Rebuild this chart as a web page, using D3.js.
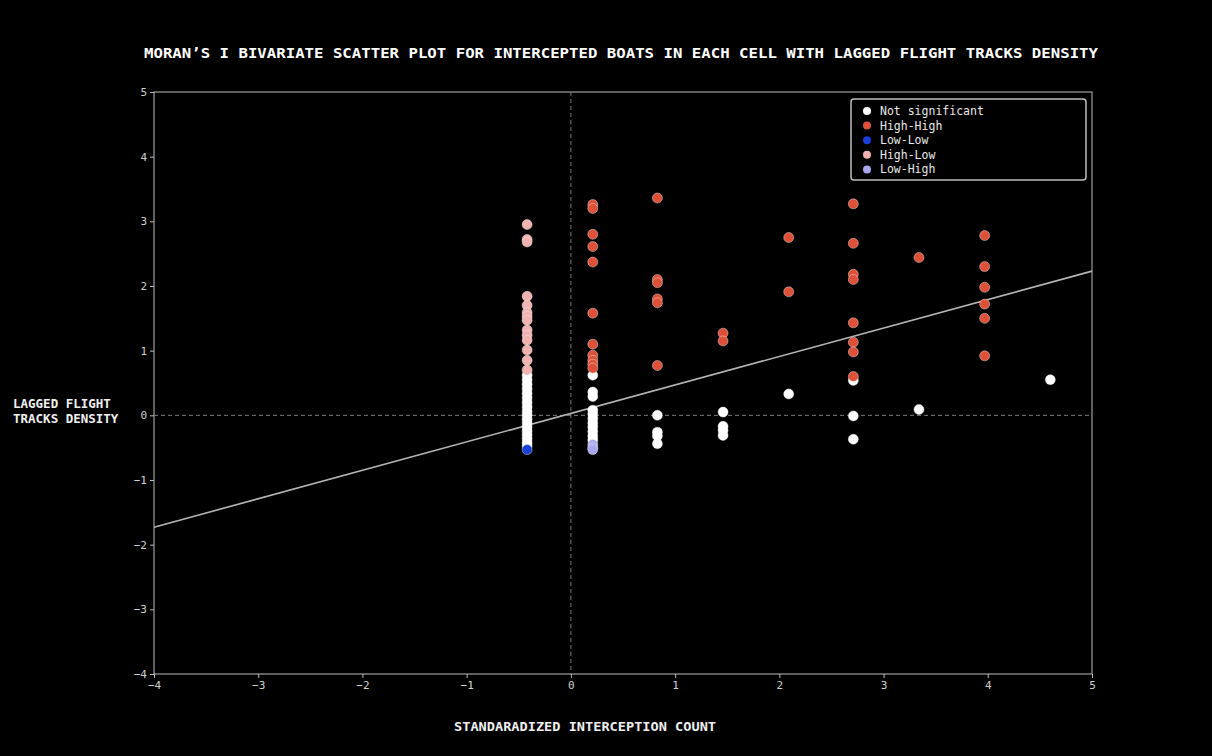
<!DOCTYPE html>
<html>
<head>
<meta charset="utf-8">
<script src="https://cdn.jsdelivr.net/npm/d3@7"></script>
<style>
  body { margin: 0; background: #000; }
  svg { display: block; }
  .axis text { font-family: "DejaVu Sans Mono", monospace; font-size: 11px; fill: #d0d0d0; }
  .axis path, .axis line { stroke: #bdbdbd; }
</style>
</head>
<body>
<svg id="chart" width="1212" height="756"></svg>
<script>
// moran scatter data (standardized interceptions vs lagged flight density)
const notSignificant = [
  [-0.42, 0.62], [-0.42, 0.55], [-0.42, 0.48], [-0.42, 0.41], [-0.42, 0.34], [-0.42, 0.27],
  [-0.42, 0.20], [-0.42, 0.13], [-0.42, 0.06], [-0.42, 0.00], [-0.42, -0.06], [-0.42, -0.12],
  [-0.42, -0.18], [-0.42, -0.24], [-0.42, -0.30], [-0.42, -0.36], [-0.42, -0.42], [-0.42, -0.47],
  [0.21, 0.62], [0.21, 0.36], [0.21, 0.29], [0.21, 0.08], [0.21, 0.02], [0.21, -0.05],
  [0.21, -0.12], [0.21, -0.18], [0.21, -0.25], [0.21, -0.32], [0.21, -0.38],
  [0.83, 0.00], [0.83, -0.26], [0.83, -0.32], [0.83, -0.44],
  [1.46, 0.05], [1.46, -0.17], [1.46, -0.23], [1.46, -0.31],
  [2.09, 0.33],
  [2.71, 0.54], [2.71, -0.01], [2.71, -0.37],
  [3.34, 0.09],
  [4.60, 0.55]
];
const highHigh = [
  [0.21, 3.26], [0.21, 3.20], [0.21, 2.80], [0.21, 2.61], [0.21, 2.37], [0.21, 1.58],
  [0.21, 1.10], [0.21, 0.93], [0.21, 0.85], [0.21, 0.79], [0.21, 0.73],
  [0.83, 3.36], [0.83, 2.10], [0.83, 2.05], [0.83, 1.80], [0.83, 1.74], [0.83, 0.77],
  [1.46, 1.27], [1.46, 1.15],
  [2.09, 2.75], [2.09, 1.91],
  [2.71, 3.27], [2.71, 2.66], [2.71, 2.18], [2.71, 2.10], [2.71, 1.43], [2.71, 1.13],
  [2.71, 0.98], [2.71, 0.60],
  [3.34, 2.44],
  [3.97, 2.78], [3.97, 2.30], [3.97, 1.98], [3.97, 1.72], [3.97, 1.50], [3.97, 0.92]
];
const lowLow = [[-0.42, -0.53]];
const highLow = [
  [-0.42, 2.95], [-0.42, 2.72], [-0.42, 2.68], [-0.42, 1.84], [-0.42, 1.70], [-0.42, 1.59],
  [-0.42, 1.53], [-0.42, 1.47], [-0.42, 1.32], [-0.42, 1.24], [-0.42, 1.16], [-0.42, 1.01],
  [-0.42, 0.85], [-0.42, 0.70]
];
const lowHigh = [[0.21, -0.45], [0.21, -0.50], [0.21, -0.53]];

const quadrants = ["Not significant", "High-High", "Low-Low", "High-Low", "Low-High"];
const quadColors = ["#ffffff", "#de5138", "#1a3fd6", "#f2b3b0", "#a9a6f2"];
const fitSlope = 0.44, fitIntercept = 0.03;
const xTicks = [-4, -3, -2, -1, 0, 1, 2, 3, 4, 5];
const yTicks = [-4, -3, -2, -1, 0, 1, 2, 3, 4, 5];

const svg = d3.select("#chart");
const margin = {top: 92, right: 120, bottom: 82, left: 154};
const width = 1212 - margin.left - margin.right;
const height = 756 - margin.top - margin.bottom;

const x = d3.scaleLinear().domain([-4, 5]).range([0, width]);
const y = d3.scaleLinear().domain([-4, 5]).range([height, 0]);
const color = d3.scaleOrdinal().domain(quadrants).range(quadColors);

svg.append("rect").attr("width", 1212).attr("height", 756).attr("fill", "#000");

const g = svg.append("g").attr("transform", `translate(${margin.left},${margin.top})`);

// frame
g.append("rect").attr("width", width).attr("height", height)
  .attr("fill", "none").attr("stroke", "#bdbdbd").attr("stroke-width", 1);

const fmt = d => d < 0 ? "\u2212" + Math.abs(d) : String(d);

g.append("g").attr("class", "axis")
  .attr("transform", `translate(0,${height})`)
  .call(d3.axisBottom(x).tickValues(xTicks).tickFormat(fmt).tickSize(4).tickPadding(3))
  .call(s => s.select(".domain").remove());

g.append("g").attr("class", "axis")
  .call(d3.axisLeft(y).tickValues(yTicks).tickFormat(fmt).tickSize(4).tickPadding(3))
  .call(s => s.select(".domain").remove());

// zero reference lines
g.append("line").attr("x1", x(0)).attr("x2", x(0)).attr("y1", 0).attr("y2", height)
  .attr("stroke", "#8a8a8a").attr("stroke-dasharray", "4,3").attr("stroke-width", 0.9);
g.append("line").attr("x1", 0).attr("x2", width).attr("y1", y(0)).attr("y2", y(0))
  .attr("stroke", "#8a8a8a").attr("stroke-dasharray", "4,3").attr("stroke-width", 0.9);

// fitted line
g.append("line")
  .attr("x1", x(-4)).attr("y1", y(fitIntercept + fitSlope * -4))
  .attr("x2", x(5)).attr("y2", y(fitIntercept + fitSlope * 5))
  .attr("stroke", "#b5b5b5").attr("stroke-width", 1.6);

const series = [notSignificant, highHigh, lowLow, highLow, lowHigh];
series.forEach((pts, i) => {
  g.append("g").selectAll("circle").data(pts).enter().append("circle")
    .attr("cx", d => x(d[0])).attr("cy", d => y(d[1])).attr("r", 5)
    .attr("fill", color(quadrants[i]))
    .attr("stroke", "#f4f4f4").attr("stroke-opacity", 0.7).attr("stroke-width", 0.6);
});

// legend, top right
const legend = g.append("g").attr("transform", `translate(${width - 241},7)`);
legend.append("rect").attr("width", 235).attr("height", 81).attr("rx", 3)
  .attr("fill", "#000").attr("stroke", "#bdbdbd").attr("stroke-width", 1.5);
quadrants.forEach((q, i) => {
  legend.append("circle").attr("cx", 16).attr("cy", 12 + i * 14.6).attr("r", 4)
    .attr("fill", color(q));
  legend.append("text").attr("x", 29).attr("y", 16 + i * 14.6).text(q)
    .attr("fill", "#e8e8e8").style("font-family", "DejaVu Sans Mono, monospace").style("font-size", "11.5px");
});

// title and labels
svg.append("text").attr("x", 621).attr("y", 58).attr("text-anchor", "middle")
  .attr("fill", "#fff").style("font-family", "DejaVu Sans Mono, monospace")
  .style("font-weight", "bold").style("font-size", "14.5px")
  .attr("textLength", 954).attr("lengthAdjust", "spacingAndGlyphs")
  .text("MORAN\u2019S I BIVARIATE SCATTER PLOT FOR INTERCEPTED BOATS IN EACH CELL WITH LAGGED FLIGHT TRACKS DENSITY");

svg.append("text").attr("x", 585).attr("y", 731).attr("text-anchor", "middle")
  .attr("fill", "#f0f0f0").style("font-family", "DejaVu Sans Mono, monospace")
  .style("font-weight", "bold").style("font-size", "13px")
  .attr("textLength", 262).attr("lengthAdjust", "spacingAndGlyphs")
  .text("STANDARADIZED INTERCEPTION COUNT");

const yl = svg.append("text").attr("fill", "#f0f0f0")
  .style("font-family", "DejaVu Sans Mono, monospace")
  .style("font-weight", "bold").style("font-size", "12.5px");
yl.append("tspan").attr("x", 13).attr("y", 408).text("LAGGED FLIGHT");
yl.append("tspan").attr("x", 13).attr("y", 423).text("TRACKS DENSITY");
</script>
</body>
</html>
